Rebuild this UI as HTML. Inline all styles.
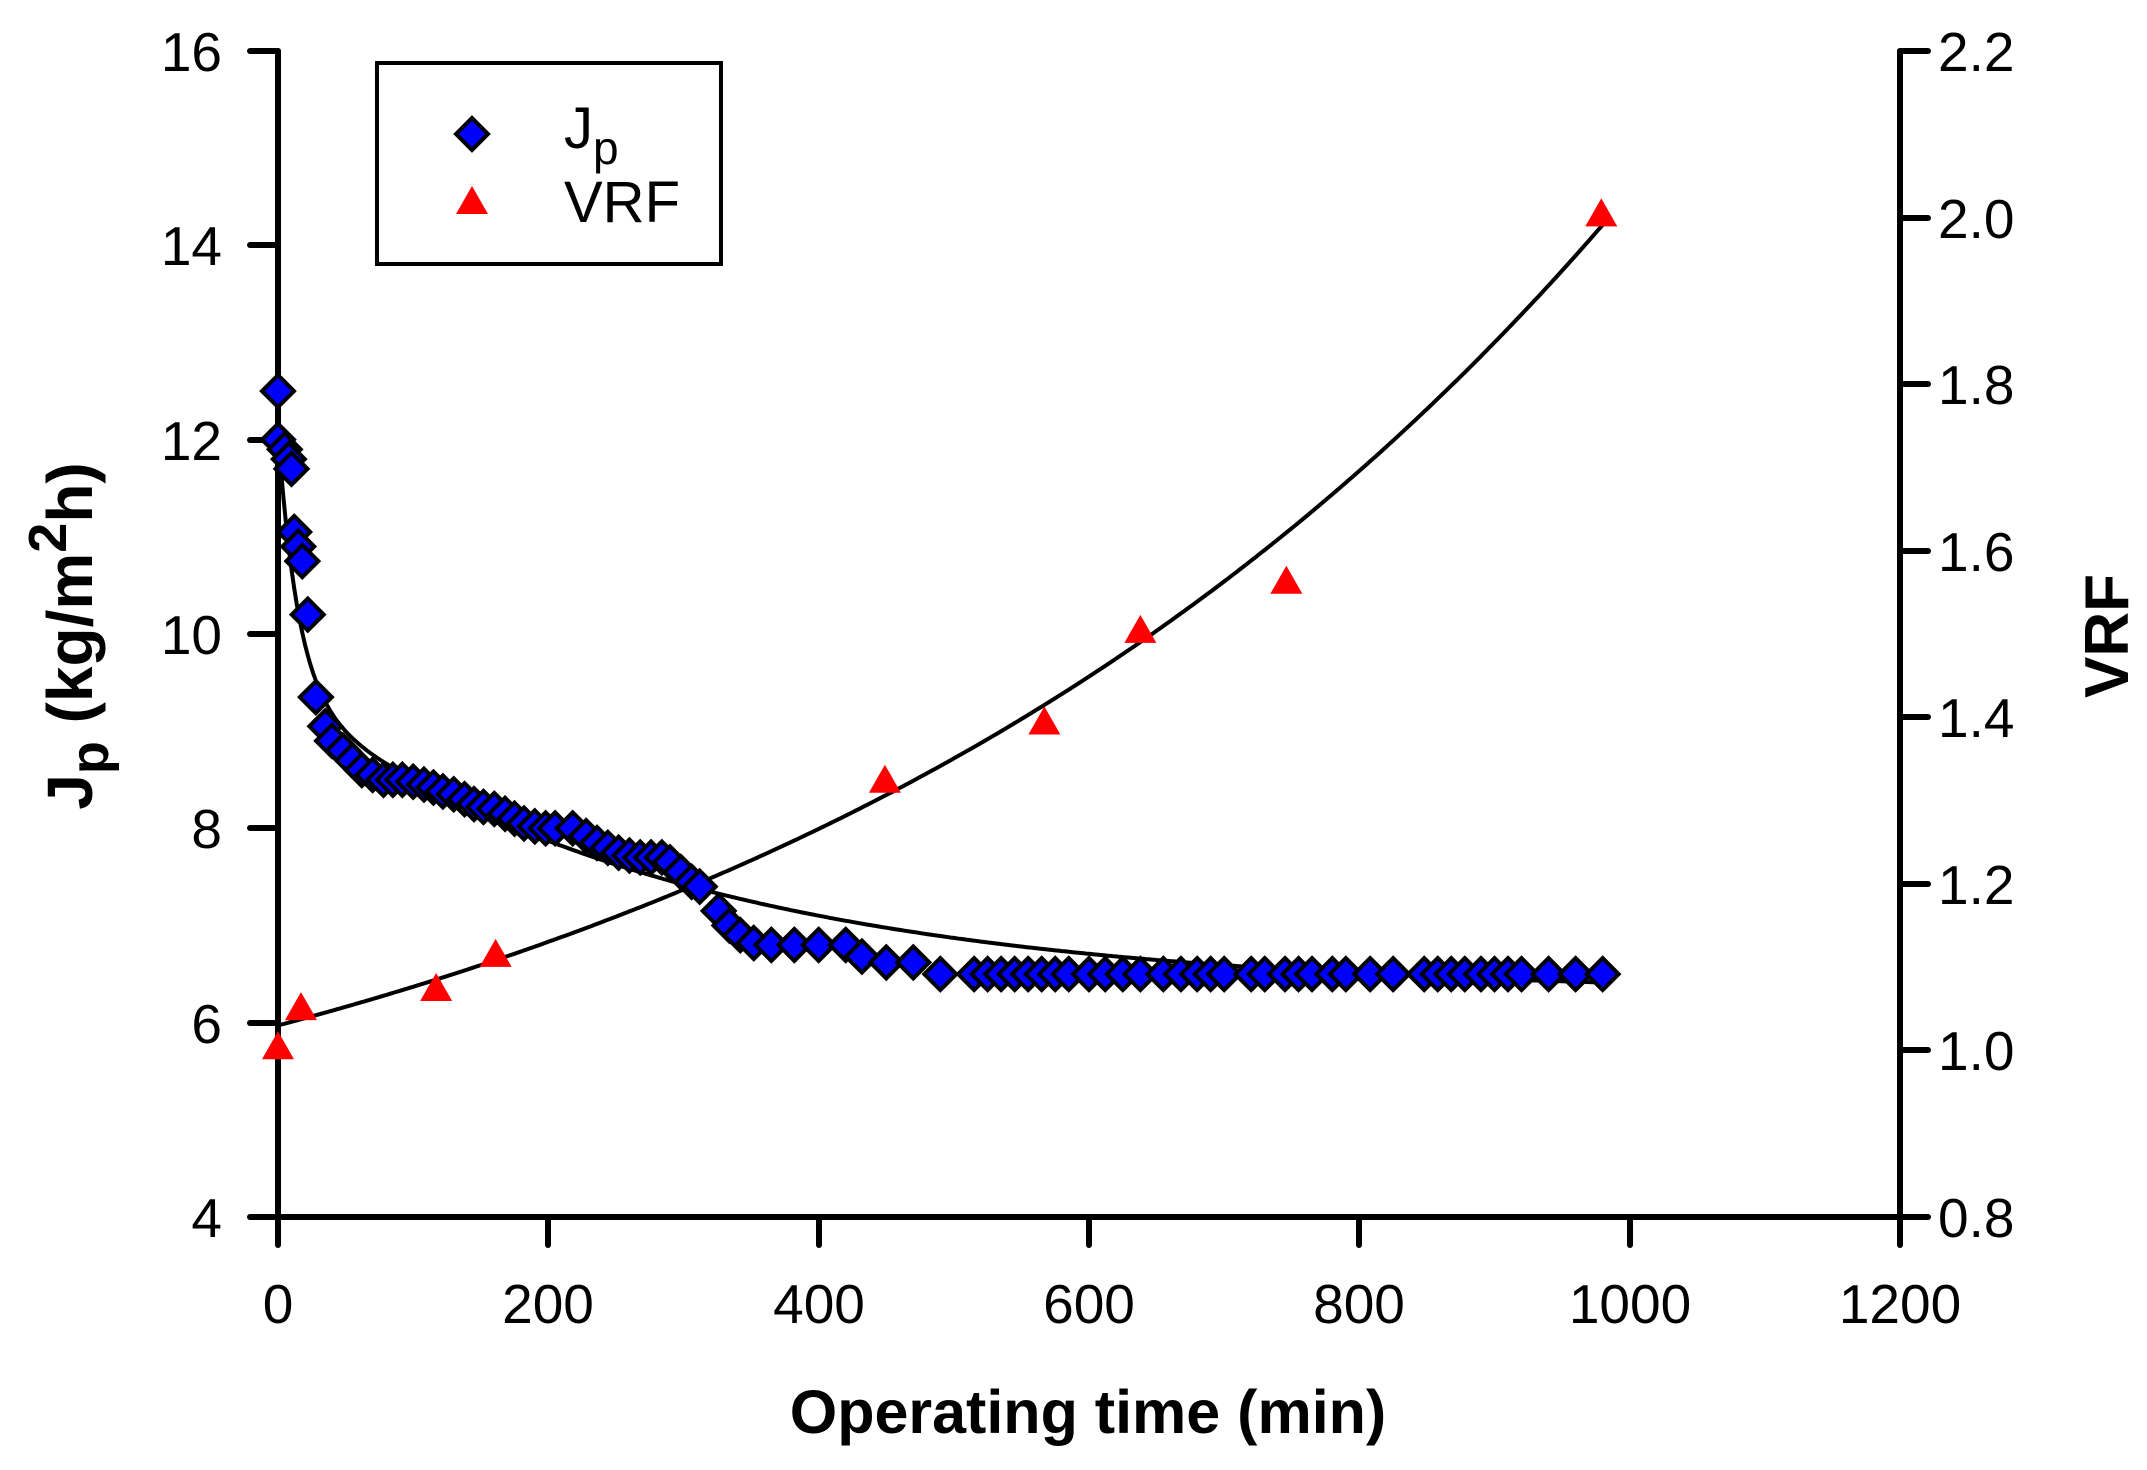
<!DOCTYPE html>
<html><head><meta charset="utf-8"><style>
html,body{margin:0;padding:0;background:#fff;}
svg{display:block;}
text{font-family:"Liberation Sans",Arial,sans-serif;fill:#000;}
</style></head><body>
<svg id="s" width="2147" height="1470" viewBox="0 0 2147 1470" xmlns="http://www.w3.org/2000/svg">
<g stroke="#000" stroke-width="6" fill="none" stroke-linecap="round">
<line x1="278" y1="51" x2="278" y2="1217"/>
<line x1="1900" y1="51" x2="1900" y2="1217"/>
<line x1="250" y1="1217" x2="1928" y2="1217"/>
<line x1="250" y1="51" x2="278" y2="51"/>
<line x1="250" y1="245" x2="278" y2="245"/>
<line x1="250" y1="440" x2="278" y2="440"/>
<line x1="250" y1="634" x2="278" y2="634"/>
<line x1="250" y1="828" x2="278" y2="828"/>
<line x1="250" y1="1023" x2="278" y2="1023"/>
<line x1="1900" y1="51" x2="1928" y2="51"/>
<line x1="1900" y1="218" x2="1928" y2="218"/>
<line x1="1900" y1="384" x2="1928" y2="384"/>
<line x1="1900" y1="551" x2="1928" y2="551"/>
<line x1="1900" y1="717" x2="1928" y2="717"/>
<line x1="1900" y1="884" x2="1928" y2="884"/>
<line x1="1900" y1="1050" x2="1928" y2="1050"/>
<line x1="278" y1="1217" x2="278" y2="1245"/>
<line x1="548" y1="1217" x2="548" y2="1245"/>
<line x1="819" y1="1217" x2="819" y2="1245"/>
<line x1="1089" y1="1217" x2="1089" y2="1245"/>
<line x1="1359" y1="1217" x2="1359" y2="1245"/>
<line x1="1630" y1="1217" x2="1630" y2="1245"/>
<line x1="1900" y1="1217" x2="1900" y2="1245"/>
</g>
<g font-size="55" text-anchor="end">
<text x="222" y="71">16</text><text x="222" y="265">14</text><text x="222" y="460">12</text>
<text x="222" y="654">10</text><text x="222" y="848">8</text><text x="222" y="1043">6</text><text x="222" y="1237">4</text>
</g>
<g font-size="55" text-anchor="start">
<text x="1938" y="71">2.2</text><text x="1938" y="238">2.0</text><text x="1938" y="404">1.8</text>
<text x="1938" y="571">1.6</text><text x="1938" y="737">1.4</text><text x="1938" y="904">1.2</text>
<text x="1938" y="1070">1.0</text><text x="1938" y="1237">0.8</text>
</g>
<g font-size="55" text-anchor="middle">
<text x="278" y="1323">0</text><text x="548" y="1323">200</text><text x="819" y="1323">400</text>
<text x="1089" y="1323">600</text><text x="1359" y="1323">800</text><text x="1630" y="1323">1000</text><text x="1900" y="1323">1200</text>
</g>
<text x="1088" y="1433" font-size="61" font-weight="bold" text-anchor="middle">Operating time (min)</text>
<text transform="translate(92,636) rotate(-90)" font-size="64" font-weight="bold" text-anchor="middle">J<tspan font-size="54" dy="16">p</tspan><tspan dy="-16"> (kg/m</tspan><tspan font-size="54" dy="-26">2</tspan><tspan dy="26">h)</tspan></text>
<text transform="translate(2128,636) rotate(-90)" font-size="62" font-weight="bold" text-anchor="middle">VRF</text>
<rect x="377" y="63" width="344" height="201" fill="#fff" stroke="#000" stroke-width="4"/>
<polygon points="472,118 488,134 472,150 456,134" fill="#0000ff" stroke="#000" stroke-width="4"/>
<polygon points="472,186 488,214 456,214" fill="#ff0000"/>
<text x="564" y="148" font-size="58">J<tspan font-size="46" dy="16">p</tspan></text>
<text x="564" y="222" font-size="58">VRF</text>
<g id="curves" fill="none" stroke="#000" stroke-width="4"></g>
<g id="pts"></g>
</svg>
<script>
var X=function(t){return 278+t*(1622/1200);};
var YL=function(v){return 51+(16-v)*(1166/12);};
var YR=function(v){return 51+(2.2-v)*(1166/1.4);};
var ns="http://www.w3.org/2000/svg";
var c=document.getElementById("curves"),p=document.getElementById("pts");
var a="",b="";
for(var t=0;t<=980;t+=2){
 var j=6.3+3.08*Math.exp(-t/297)+2.7*Math.exp(-t/15);
 var r=0.743+0.287*Math.exp(0.0015*t);
 a+=(t?"L":"M")+X(t).toFixed(1)+","+YL(j).toFixed(1);
 b+=(t?"L":"M")+X(t).toFixed(1)+","+YR(r).toFixed(1);
}
[a,b].forEach(function(d){var e=document.createElementNS(ns,"path");e.setAttribute("d",d);c.appendChild(e);});
var J=[[0,12.5],[0,12.0],[5,11.9],[8,11.8],[10,11.7],[12,11.05],[15,10.9],[18,10.75],[22,10.2],[28,9.35],[35,9.05],[40,8.9],[48,8.8],[55,8.7],[62,8.6],[70,8.55],[78,8.5],[85,8.5],[92,8.5],[100,8.48],[108,8.45],[115,8.42],[122,8.38],[130,8.35],[138,8.3],[145,8.25],[152,8.22],[160,8.2],[168,8.15],[175,8.1],[182,8.05],[190,8.02],[198,8.0],[205,8.0],[218,8.0],[228,7.92],[236,7.85],[244,7.8],[252,7.75],[260,7.72],[268,7.7],[276,7.7],[284,7.7],[290,7.65],[298,7.55],[306,7.45],[312,7.4],[326,7.15],[334,7.0],[342,6.9],[352,6.82],[365,6.8],[382,6.8],[400,6.8],[420,6.8],[432,6.68],[450,6.62],[470,6.62],[490,6.5],[515,6.5],[525,6.5],[535,6.5],[545,6.5],[555,6.5],[565,6.5],[575,6.5],[585,6.5],[600,6.5],[612,6.5],[625,6.5],[638,6.5],[655,6.5],[668,6.5],[680,6.5],[690,6.5],[700,6.5],[720,6.5],[730,6.5],[745,6.5],[755,6.5],[765,6.5],[780,6.5],[790,6.5],[808,6.5],[825,6.5],[848,6.5],[858,6.5],[868,6.5],[878,6.5],[890,6.5],[900,6.5],[910,6.5],[920,6.5],[940,6.5],[960,6.5],[980,6.5]];
J.forEach(function(q){var x=X(q[0]),y=YL(q[1]);var e=document.createElementNS(ns,"polygon");
e.setAttribute("points",x+","+(y-16)+" "+(x+16)+","+y+" "+x+","+(y+16)+" "+(x-16)+","+y);
e.setAttribute("fill","#0000ff");e.setAttribute("stroke","#000");e.setAttribute("stroke-width","4");p.appendChild(e);});
var V=[[0,1.005],[17,1.052],[117,1.075],[161,1.116],[449,1.325],[567,1.395],[638,1.505],[746,1.564],[979,2.005]];
V.forEach(function(q){var x=X(q[0]),y=YR(q[1]);var e=document.createElementNS(ns,"polygon");
e.setAttribute("points",x+","+(y-15)+" "+(x+16)+","+(y+13)+" "+(x-16)+","+(y+13));
e.setAttribute("fill","#ff0000");p.appendChild(e);});
</script>
</body></html>
